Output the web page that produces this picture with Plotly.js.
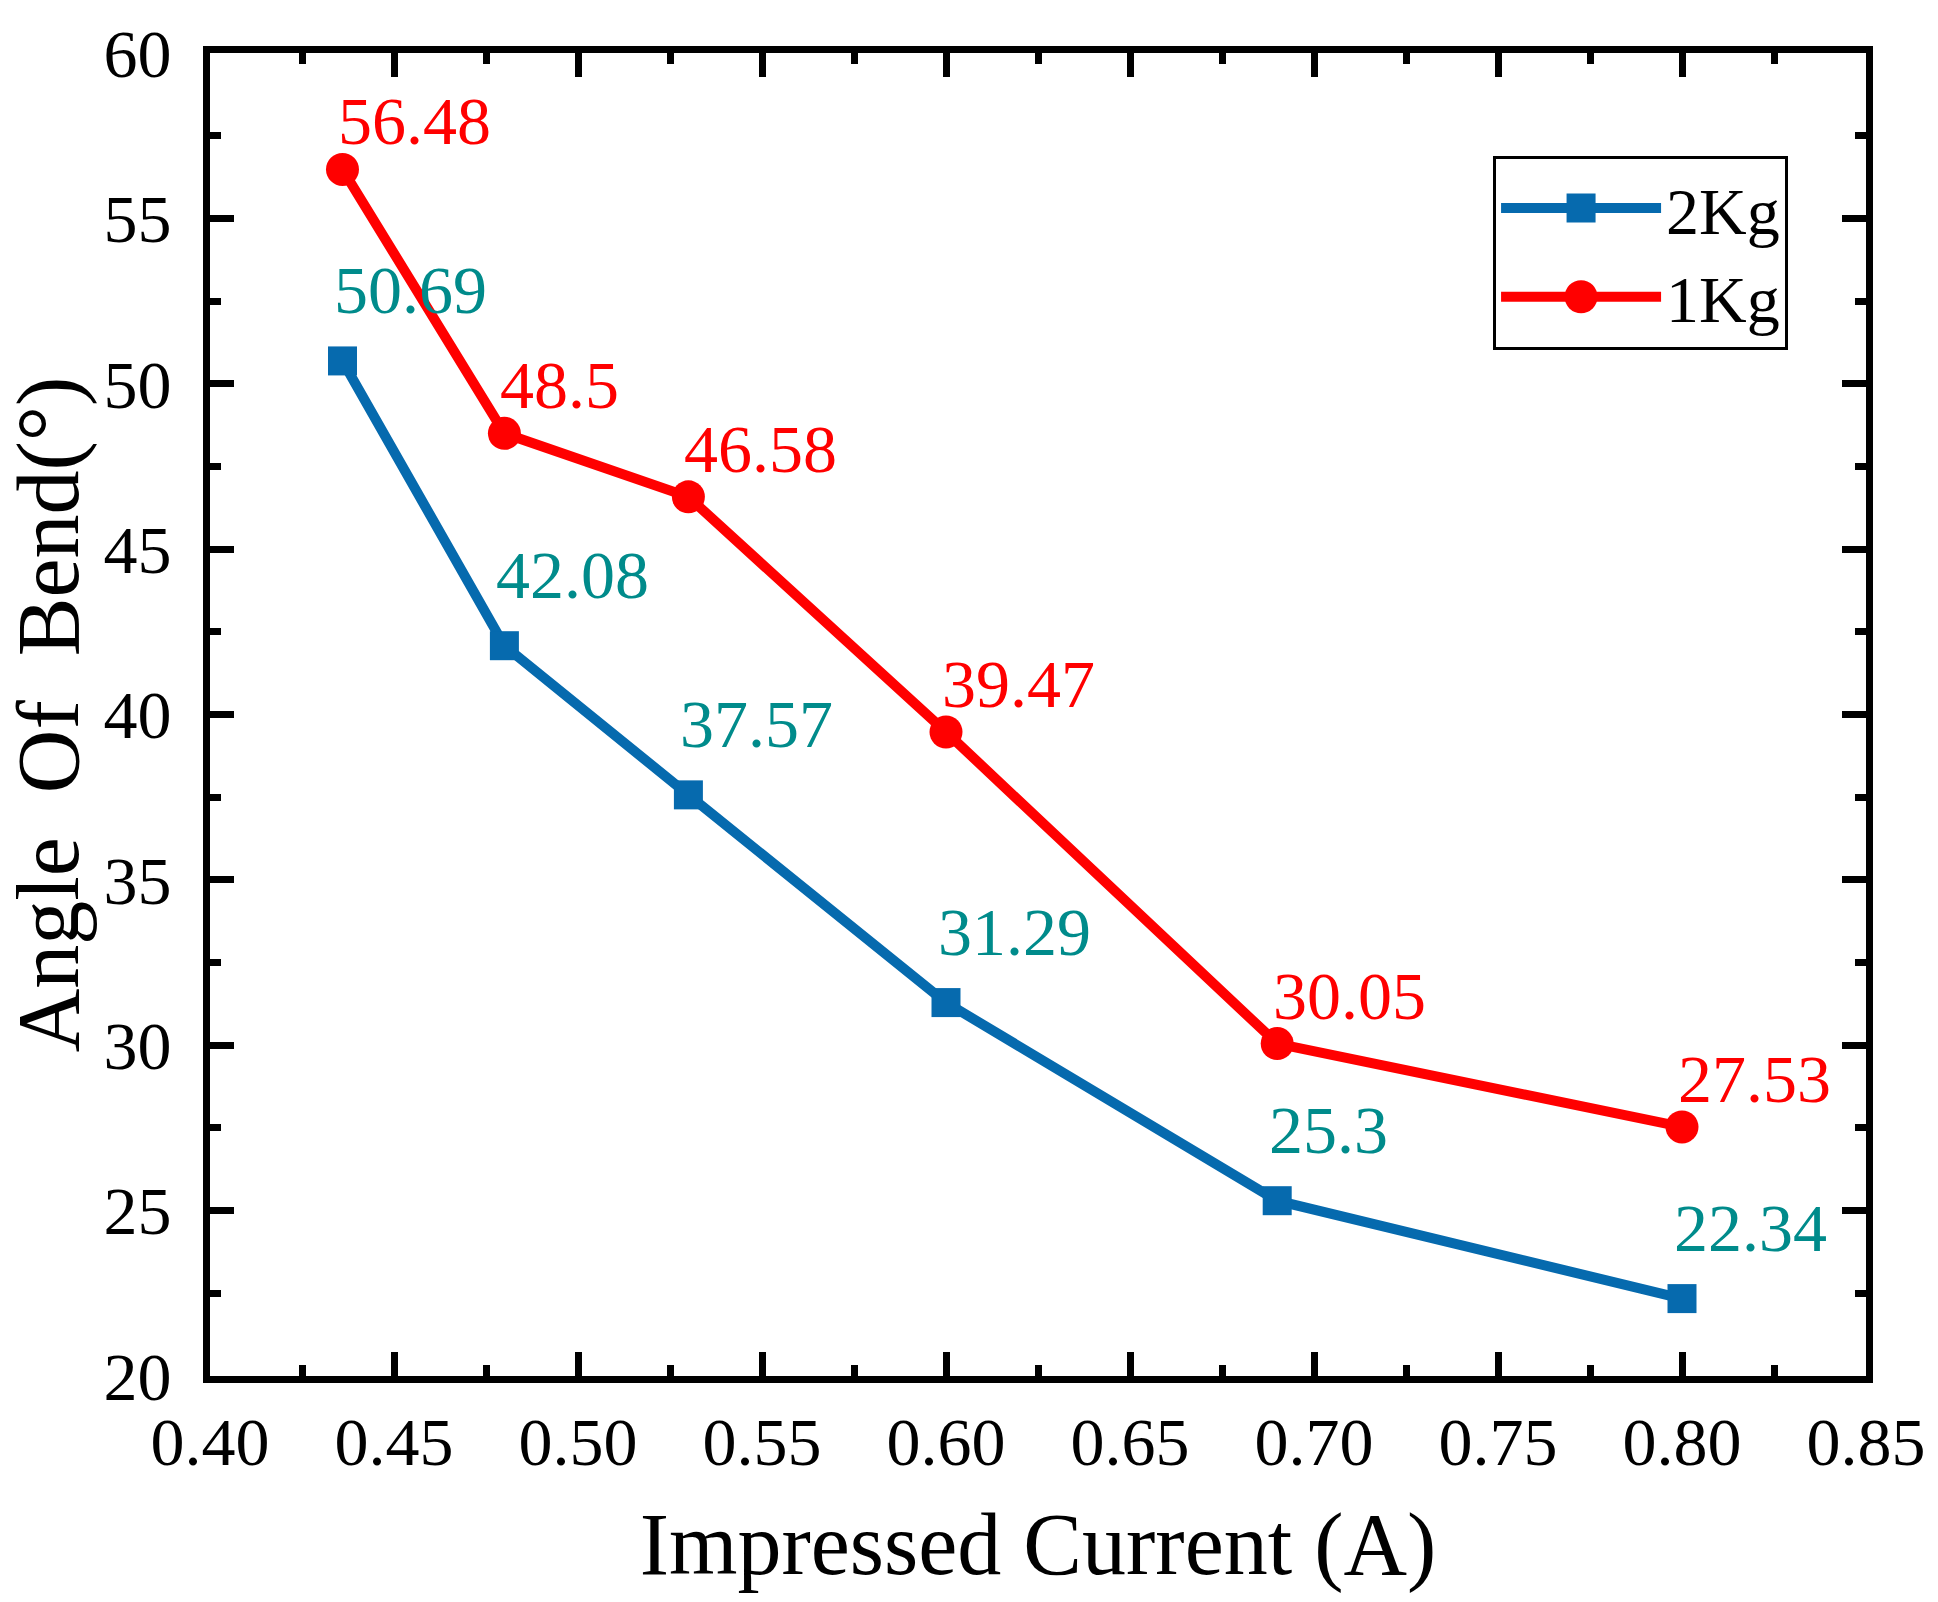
<!DOCTYPE html>
<html>
<head>
<meta charset="utf-8">
<script src="https://cdn.plot.ly/plotly-3.0.1.min.js"></script>
<style>
  html, body { margin: 0; padding: 0; background: #fff; }
  #plot1 { width: 1938px; height: 1602px; }
</style>
</head>
<body>
<div id="plot1"></div>
<script>
// data
const currentA = [0.436, 0.48, 0.53, 0.60, 0.69, 0.80];
const angle2Kg = [50.69, 42.08, 37.57, 31.29, 25.3, 22.34];
const angle1Kg = [56.48, 48.5, 46.58, 39.47, 30.05, 27.53];
const label2Kg = ['50.69', '42.08', '37.57', '31.29', '25.3', '22.34'];
const label1Kg = ['56.48', '48.5', '46.58', '39.47', '30.05', '27.53'];

const fontFam = 'Liberation Serif, Times New Roman, serif';
const blue = '#066AAE';
const red = '#FF0000';
const teal = '#008B8B';

const trace2Kg = {
  x: currentA,
  y: angle2Kg,
  name: '2Kg',
  type: 'scatter',
  mode: 'lines+markers',
  line: { color: blue, width: 10 },
  marker: { symbol: 'square', size: 29, color: blue },
  cliponaxis: false,
};

const trace1Kg = {
  x: currentA,
  y: angle1Kg,
  name: '1Kg',
  type: 'scatter',
  mode: 'lines+markers',
  line: { color: red, width: 10 },
  marker: { symbol: 'circle', size: 33, color: red },
  cliponaxis: false,
};

// value labels, above right of each point
let annos = [];
for (let i = 0; i < currentA.length; i++) {
  annos.push({
    x: currentA[i], y: angle2Kg[i], xref: 'x', yref: 'y',
    text: label2Kg[i], showarrow: false,
    xanchor: 'left', yanchor: 'middle', xshift: -10, yshift: 71,
    font: { family: fontFam, size: 68, color: teal },
  });
  annos.push({
    x: currentA[i], y: angle1Kg[i], xref: 'x', yref: 'y',
    text: label1Kg[i], showarrow: false,
    xanchor: 'left', yanchor: 'middle', xshift: -6, yshift: 48,
    font: { family: fontFam, size: 68, color: red },
  });
}

const axisCommon = {
  showline: true,
  linecolor: 'black',
  linewidth: 7,
  mirror: 'ticks',
  ticks: 'inside',
  ticklen: 24,
  tickwidth: 7,
  tickcolor: 'black',
  showgrid: false,
  zeroline: false,
  tickfont: { family: fontFam, size: 68, color: 'black' },
};

const layout = {
  width: 1938,
  height: 1602,
  margin: { l: 210, r: 72, t: 53, b: 226 },
  paper_bgcolor: 'white',
  plot_bgcolor: 'white',
  font: { family: fontFam, color: 'black' },
  showlegend: true,
  legend: {
    x: 0.7748, y: 0.9225, xanchor: 'left', yanchor: 'top',
    bordercolor: 'black', borderwidth: 3, bgcolor: 'white',
    itemwidth: 160,
    font: { family: fontFam, size: 66, color: 'black' },
  },
  xaxis: Object.assign({}, axisCommon, {
    range: [0.40, 0.85],
    tick0: 0.40,
    dtick: 0.05,
    tickformat: '.2f',
    ticklabelstandoff: 0,
    minor: { dtick: 0.025, ticks: 'inside', ticklen: 11, tickwidth: 7, tickcolor: 'black' },
    title: { text: 'Impressed Current (A)', standoff: 36, font: { family: fontFam, size: 88, color: 'black' } },
  }),
  yaxis: Object.assign({}, axisCommon, {
    range: [20, 60],
    tick0: 20,
    dtick: 5,
    ticklabelstandoff: 18,
    minor: { dtick: 2.5, ticks: 'inside', ticklen: 11, tickwidth: 7, tickcolor: 'black' },
    title: { text: 'Angle\u00A0 Of\u00A0 Bend(°)', standoff: 22, font: { family: fontFam, size: 88, color: 'black' } },
  }),
  annotations: annos,
};

Plotly.newPlot('plot1', [trace2Kg, trace1Kg], layout, { displayModeBar: false, staticPlot: true }).then(function(gd) {
  // legend markers are capped at 16px by plotly; blow them up to the plot size
  const legendScale = [29 / 16, 33 / 16];
  gd.querySelectorAll('.legend .traces').forEach(function(tr, i) {
    tr.querySelectorAll('.legendpoints path.scatterpts').forEach(function(p) {
      const t = p.getAttribute('transform') || '';
      p.setAttribute('transform', t + ' scale(' + legendScale[i] + ')');
    });
  });
});
</script>
</body>
</html>
